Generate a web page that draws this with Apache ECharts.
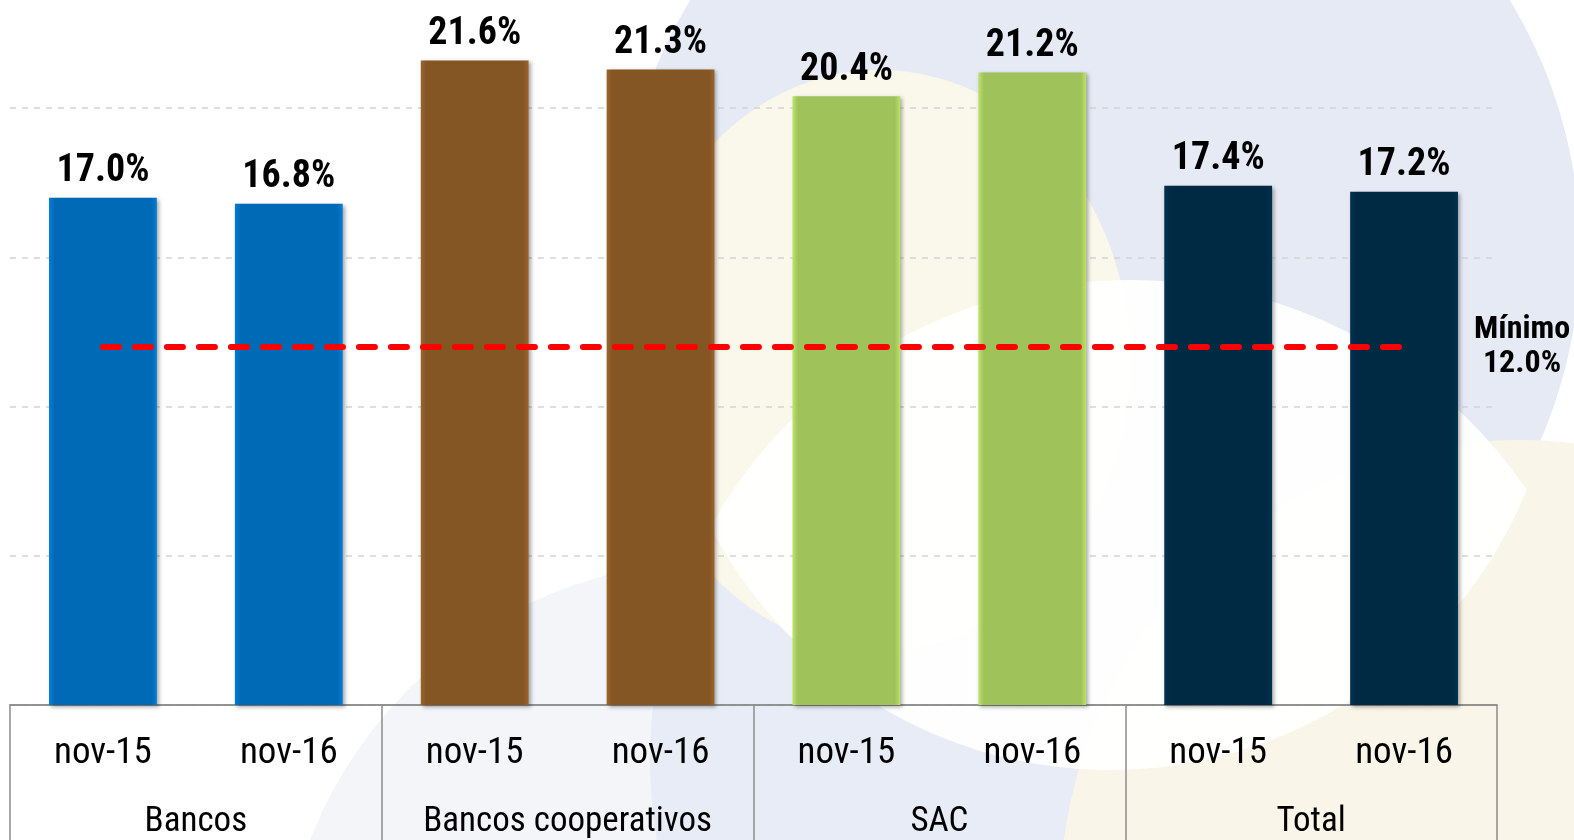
<!DOCTYPE html>
<html>
<head>
<meta charset="utf-8">
<script src="https://cdn.jsdelivr.net/npm/echarts@6/dist/echarts.min.js"></script>
<style>
  html, body { margin: 0; padding: 0; background: #fff; overflow: hidden; }
  /* plot area continues above the visible frame, as in the original slide */
  #main { width: 1574px; height: 883px; margin-top: -43px; }
</style>
</head>
<body>
<div id="main"></div>
<script>
const groups = ['Bancos', 'Bancos cooperativos', 'SAC', 'Total'];
const periods = ['nov-15', 'nov-16', 'nov-15', 'nov-16', 'nov-15', 'nov-16', 'nov-15', 'nov-16'];
const values = [17.0, 16.8, 21.6, 21.3, 20.4, 21.2, 17.4, 17.2];
const groupColors = ['#006AB6', '#845624', '#A0C25A', '#002A44'];
const minimum = 12.0;

const condensed = "'Roboto Condensed', 'DejaVu Sans Condensed', 'Liberation Sans', sans-serif";
const OY = 43; // container is shifted up by this much

const chart = echarts.init(document.getElementById('main'));

// white lens where the two big background circles overlap
function arcPoints(c, a1, a2) {
  if (a2 < a1) a2 += Math.PI * 2;
  const pts = [];
  for (let k = 0; k <= 40; k++) {
    const t = a1 + (a2 - a1) * k / 40;
    pts.push([c.x + c.r * Math.cos(t), c.y + c.r * Math.sin(t)]);
  }
  return pts;
}
function lensPoints(c1, c2) {
  const dx = c2.x - c1.x, dy = c2.y - c1.y;
  const d = Math.sqrt(dx * dx + dy * dy);
  const a = (c1.r * c1.r - c2.r * c2.r + d * d) / (2 * d);
  const h = Math.sqrt(c1.r * c1.r - a * a);
  const mx = c1.x + a * dx / d, my = c1.y + a * dy / d;
  const p1 = [mx - h * dy / d, my + h * dx / d];
  const p2 = [mx + h * dy / d, my - h * dx / d];
  const L = p1[0] < p2[0] ? p1 : p2;
  const R = p1[0] < p2[0] ? p2 : p1;
  const ang = (c, p) => Math.atan2(p[1] - c.y, p[0] - c.x);
  return arcPoints(c1, ang(c1, L), ang(c1, R)).concat(arcPoints(c2, ang(c2, R), ang(c2, L)));
}
const upperCircle = { x: 1130, y: 760 + OY, r: 480 };
const lowerCircle = { x: 1110, y: 320 + OY, r: 450 };

function shade(color) {
  const c = echarts.color.lift(color, -0.18);
  return {
    type: 'linear', x: 0, y: 0, x2: 1, y2: 0,
    colorStops: [
      { offset: 0, color: c }, { offset: 0.05, color: color },
      { offset: 0.95, color: color }, { offset: 1, color: c }
    ]
  };
}

const barData = values.map((v, i) => ({
  value: v,
  itemStyle: { color: shade(groupColors[Math.floor(i / 2)]) }
}));

const option = {
  backgroundColor: '#ffffff',
  animation: false,
  graphic: [
    { type: 'circle', z: -100, silent: true, shape: { cx: 720, cy: 1000 + OY, r: 440 }, style: { fill: '#F4F5F9' } },
    { type: 'circle', z: -99, silent: true, shape: { cx: 1100, cy: 250 + OY, r: 480 }, style: { fill: '#E5EAF5' } },
    { type: 'circle', z: -98, silent: true, shape: { cx: upperCircle.x, cy: upperCircle.y, r: upperCircle.r }, style: { fill: '#E8ECF6' } },
    { type: 'circle', z: -97, silent: true, shape: { cx: 1520, cy: 900 + OY, r: 460 }, style: { fill: '#F9F6E9' } },
    { type: 'ellipse', z: -96, silent: true, shape: { cx: 880, cy: 360 + OY, rx: 250, ry: 290 }, style: { fill: '#FAF7EB' } },
    { type: 'polygon', z: -95, silent: true, shape: { points: lensPoints(upperCircle, lowerCircle) }, style: { fill: '#FFFFFF', opacity: 0.95 } }
  ],
  grid: { left: 10, right: 77, top: 2, bottom: 133, containLabel: false },
  xAxis: [
    {
      type: 'category',
      data: periods,
      position: 'bottom',
      axisLine: { show: true, lineStyle: { color: '#8c8c8c', width: 1.5 } },
      axisTick: { show: false },
      axisLabel: { interval: 0, fontSize: 37, color: '#000', fontFamily: condensed, margin: 30 }
    },
    {
      type: 'category',
      data: groups,
      position: 'bottom',
      axisLine: { show: true, lineStyle: { color: '#8c8c8c', width: 1.5 } },
      axisTick: { show: true, interval: 0, length: 140, lineStyle: { color: '#8c8c8c', width: 1.5 } },
      axisLabel: { interval: 0, fontSize: 35, color: '#000', fontFamily: condensed, margin: 100 }
    }
  ],
  yAxis: {
    type: 'value',
    min: 0,
    max: 25,
    interval: 5,
    axisLine: { show: false },
    axisTick: { show: false },
    axisLabel: { show: false },
    splitLine: { show: true, lineStyle: { color: '#d4d4d4', type: [6, 6], width: 1.5 } }
  },
  series: [
    {
      type: 'bar',
      xAxisIndex: 0,
      data: barData,
      barWidth: '58%',
      itemStyle: {
        shadowBlur: 4,
        shadowColor: 'rgba(0,0,0,0.35)',
        shadowOffsetX: 2,
        shadowOffsetY: 2
      },
      label: {
        show: true,
        position: 'top',
        distance: 7,
        fontSize: 38,
        fontWeight: 'bold',
        color: '#000',
        fontFamily: condensed,
        formatter: p => p.value.toFixed(1) + '%'
      },
      markLine: {
        silent: true,
        symbol: 'none',
        lineStyle: { color: '#FF0000', width: 6, type: [16, 16], cap: 'round' },
        label: {
          show: true,
          position: 'end',
          distance: 118,
          align: 'center',
          fontSize: 32,
          lineHeight: 34,
          padding: [0, 0, 30, 0],
          fontWeight: 'bold',
          color: '#000',
          fontFamily: condensed,
          formatter: 'Mínimo\n' + minimum.toFixed(1) + '%'
        },
        data: [[{ coord: [0, minimum] }, { coord: [7, minimum] }]]
      }
    }
  ]
};

chart.setOption(option);
</script>
</body>
</html>
